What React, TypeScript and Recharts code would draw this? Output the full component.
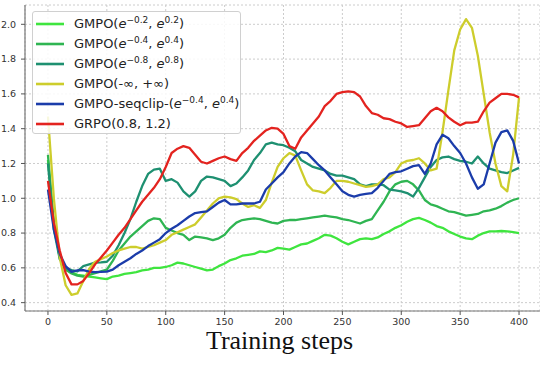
import React from 'react';
import { LineChart, Line, XAxis, YAxis, CartesianGrid, Legend } from 'recharts';

const steps = [0, 5, 10, 15, 20, 25, 30, 35, 40, 45, 50, 55, 60, 65, 70, 75, 80, 85, 90, 95, 100, 105, 110, 115, 120, 125, 130, 135, 140, 145, 150, 155, 160, 165, 170, 175, 180, 185, 190, 195, 200, 205, 210, 215, 220, 225, 230, 235, 240, 245, 250, 255, 260, 265, 270, 275, 280, 285, 290, 295, 300, 305, 310, 315, 320, 325, 330, 335, 340, 345, 350, 355, 360, 365, 370, 375, 380, 385, 390, 395, 400];

const gmpo02 = [1.22, 0.85, 0.66, 0.59, 0.575, 0.56, 0.555, 0.55, 0.545, 0.54, 0.535, 0.55, 0.555, 0.565, 0.57, 0.575, 0.585, 0.59, 0.6, 0.6, 0.605, 0.615, 0.63, 0.625, 0.615, 0.605, 0.595, 0.585, 0.59, 0.61, 0.625, 0.645, 0.655, 0.67, 0.675, 0.68, 0.695, 0.69, 0.7, 0.715, 0.71, 0.705, 0.72, 0.735, 0.74, 0.755, 0.77, 0.79, 0.785, 0.77, 0.75, 0.735, 0.75, 0.765, 0.77, 0.765, 0.775, 0.795, 0.81, 0.83, 0.845, 0.865, 0.88, 0.887, 0.875, 0.86, 0.84, 0.83, 0.81, 0.795, 0.78, 0.77, 0.765, 0.785, 0.8, 0.81, 0.81, 0.812, 0.81, 0.805, 0.8];

const gmpo04 = [1.25, 0.85, 0.66, 0.59, 0.568, 0.555, 0.55, 0.56, 0.57, 0.58, 0.59, 0.64, 0.7, 0.74, 0.78, 0.81, 0.84, 0.87, 0.885, 0.88, 0.83, 0.815, 0.8, 0.79, 0.76, 0.78, 0.775, 0.77, 0.76, 0.77, 0.79, 0.83, 0.86, 0.875, 0.88, 0.885, 0.88, 0.87, 0.86, 0.855, 0.87, 0.875, 0.875, 0.88, 0.885, 0.89, 0.895, 0.9, 0.895, 0.89, 0.88, 0.875, 0.865, 0.855, 0.87, 0.88, 0.93, 0.98, 1.04, 1.08, 1.095, 1.1, 1.08, 1.045, 0.99, 0.965, 0.955, 0.94, 0.925, 0.92, 0.91, 0.9, 0.905, 0.91, 0.925, 0.93, 0.94, 0.955, 0.975, 0.99, 1.0];

const gmpo08 = [1.2, 0.82, 0.65, 0.6, 0.587, 0.58, 0.61, 0.62, 0.63, 0.632, 0.635, 0.67, 0.73, 0.8, 0.88, 0.98, 1.07, 1.14, 1.165, 1.17, 1.1, 1.11, 1.09, 1.04, 1.01, 1.04, 1.1, 1.125, 1.12, 1.11, 1.1, 1.07, 1.085, 1.12, 1.16, 1.22, 1.26, 1.31, 1.32, 1.31, 1.305, 1.29, 1.27, 1.22, 1.2, 1.18, 1.17, 1.16, 1.14, 1.13, 1.13, 1.12, 1.11, 1.08, 1.07, 1.08, 1.08, 1.075, 1.05, 1.045, 1.04, 1.03, 1.01, 1.06, 1.12, 1.18, 1.22, 1.235, 1.24, 1.225, 1.215, 1.21, 1.2, 1.24, 1.2, 1.17, 1.16, 1.15, 1.145, 1.16, 1.175];

const gmpoInf = [1.47, 1.0, 0.66, 0.5, 0.445, 0.453, 0.525, 0.595, 0.635, 0.65, 0.665, 0.685, 0.7, 0.71, 0.72, 0.72, 0.71, 0.72, 0.73, 0.745, 0.76, 0.79, 0.805, 0.82, 0.835, 0.85, 0.89, 0.93, 0.97, 1.0, 1.01, 1.005, 0.995, 0.97, 0.95, 0.96, 0.945, 0.99, 1.09, 1.18, 1.23, 1.26, 1.245, 1.16, 1.08, 1.045, 1.04, 1.03, 1.06, 1.1, 1.1, 1.095, 1.085, 1.075, 1.065, 1.07, 1.08, 1.11, 1.12, 1.15, 1.2, 1.215, 1.22, 1.23, 1.2, 1.16, 1.17, 1.38, 1.62, 1.85, 1.97, 2.03, 1.98, 1.82, 1.6, 1.38, 1.2, 1.07, 1.04, 1.25, 1.58];

const seqclip = [1.05, 0.82, 0.68, 0.61, 0.577, 0.585, 0.587, 0.578, 0.575, 0.577, 0.578, 0.59, 0.615, 0.635, 0.655, 0.68, 0.7, 0.725, 0.745, 0.765, 0.8, 0.825, 0.845, 0.87, 0.895, 0.915, 0.92, 0.925, 0.95, 0.975, 0.99, 0.965, 0.965, 0.97, 0.97, 0.97, 0.98, 1.05, 1.085, 1.12, 1.15, 1.2, 1.24, 1.265, 1.26, 1.225, 1.19, 1.16, 1.12, 1.08, 1.04, 1.02, 1.01, 1.02, 1.025, 1.03, 1.06, 1.1, 1.14, 1.15, 1.155, 1.17, 1.185, 1.19, 1.14, 1.2, 1.31, 1.365, 1.345, 1.3, 1.26, 1.2, 1.12, 1.055, 1.08, 1.2, 1.32, 1.38, 1.39, 1.33, 1.2];

const grpo = [1.1, 0.86, 0.7, 0.57, 0.505, 0.505, 0.525, 0.57, 0.62, 0.66, 0.7, 0.745, 0.79, 0.83, 0.88, 0.93, 0.98, 1.02, 1.06, 1.11, 1.18, 1.26, 1.285, 1.3, 1.29, 1.25, 1.21, 1.2, 1.215, 1.23, 1.24, 1.225, 1.215, 1.26, 1.29, 1.33, 1.36, 1.39, 1.405, 1.4, 1.37, 1.3, 1.285, 1.35, 1.39, 1.43, 1.47, 1.53, 1.56, 1.6, 1.61, 1.615, 1.61, 1.585, 1.53, 1.49, 1.48, 1.46, 1.455, 1.44, 1.43, 1.41, 1.415, 1.42, 1.46, 1.5, 1.52, 1.5, 1.465, 1.44, 1.42, 1.435, 1.435, 1.44, 1.5, 1.55, 1.575, 1.6, 1.6, 1.595, 1.58];

const xTicks = [0, 50, 100, 150, 200, 250, 300, 350, 400];
const yTicks = [0.4, 0.6, 0.8, 1.0, 1.2, 1.4, 1.6, 1.8, 2.0];

type Def = { key: string; values: number[]; color: string; pre: string; a?: string; b?: string; plain?: string };

const defs: Def[] = [
  { key: 'gmpo02', values: gmpo02, color: '#3fe53f', pre: 'GMPO(', a: '\u22120.2', b: '0.2' },
  { key: 'gmpo04', values: gmpo04, color: '#2fb552', pre: 'GMPO(', a: '\u22120.4', b: '0.4' },
  { key: 'gmpo08', values: gmpo08, color: '#1e9071', pre: 'GMPO(', a: '\u22120.8', b: '0.8' },
  { key: 'gmpoInf', values: gmpoInf, color: '#cdcd2c', pre: '', plain: 'GMPO(-\u221e, +\u221e)' },
  { key: 'seqclip', values: seqclip, color: '#1b3caa', pre: 'GMPO-seqclip-(', a: '\u22120.4', b: '0.4' },
  { key: 'grpo', values: grpo, color: '#e3231f', pre: '', plain: 'GRPO(0.8, 1.2)' },
];

const data = steps.map((s, i) => {
  const row: Record<string, number> = { step: s };
  defs.forEach((d) => {
    row[d.key] = d.values[i];
  });
  return row;
});

const font = '"DejaVu Sans", sans-serif';

const renderLegend = () => (
  <div
    style={{
      width: 209,
      height: 123,
      boxSizing: 'border-box',
      border: '1px solid #d0d0d0',
      borderRadius: 3,
      background: 'rgba(255,255,255,0.85)',
      paddingTop: 2,
      paddingLeft: 3,
      fontFamily: font,
      fontSize: 13,
      color: '#222',
    }}
  >
    {defs.map((d) => (
      <div key={d.key} style={{ display: 'flex', alignItems: 'center', height: 20, lineHeight: '20px', whiteSpace: 'nowrap' }}>
        <svg width={28} height={6} style={{ marginRight: 10, flex: 'none' }}>
          <line x1={0} y1={3} x2={28} y2={3} stroke={d.color} strokeWidth={2.6} />
        </svg>
        {d.plain ? (
          <span>{d.plain}</span>
        ) : (
          <span>
            {d.pre}
            <i>e</i>
            <sup style={{ fontSize: 9, lineHeight: 0 }}>{d.a}</sup>
            {', '}
            <i>e</i>
            <sup style={{ fontSize: 9, lineHeight: 0 }}>{d.b}</sup>
            {')'}
          </span>
        )}
      </div>
    ))}
  </div>
);

const XLabel = (props: any) => {
  const vb = props.viewBox || { x: 25, y: 311, width: 515 };
  return (
    <text
      x={vb.x + vb.width / 2 - 3}
      y={vb.y + 38}
      textAnchor="middle"
      fontFamily='"Liberation Serif", "Times New Roman", serif'
      fontSize={26}
      fill="#111"
    >
      Training steps
    </text>
  );
};

export default function App() {
  return (
    <div style={{ position: 'absolute', left: 0, top: 0, width: 540, height: 372, background: '#fff' }}>
      <LineChart width={540} height={372} data={data} margin={{ top: 5, right: 0, bottom: 0, left: 0 }}>
        <CartesianGrid stroke="#cccccc" strokeDasharray="2 2" vertical horizontal />
        <XAxis
          xAxisId="top"
          orientation="top"
          dataKey="step"
          type="number"
          domain={[-19.5, 417.8]}
          allowDataOverflow
          height={0}
          tick={false}
          tickLine={false}
          axisLine={{ stroke: '#777', strokeWidth: 1.2 }}
        />
        <XAxis
          dataKey="step"
          type="number"
          domain={[-19.5, 417.8]}
          allowDataOverflow
          ticks={xTicks}
          height={61}
          tickSize={4}
          tickMargin={3}
          tick={{ fontFamily: font, fontSize: 9.5, fill: '#333' }}
          tickLine={{ stroke: '#555' }}
          axisLine={{ stroke: '#777', strokeWidth: 1.2 }}
          label={<XLabel />}
        />
        <YAxis
          type="number"
          domain={[0.352, 2.111]}
          allowDataOverflow
          ticks={yTicks}
          width={25}
          tickSize={4}
          tickMargin={5}
          tickFormatter={(v: number) => v.toFixed(1)}
          tick={{ fontFamily: font, fontSize: 9.5, fill: '#333' }}
          tickLine={{ stroke: '#555' }}
          axisLine={{ stroke: '#777', strokeWidth: 1.2 }}
        />
        <Legend
          layout="vertical"
          align="center"
          verticalAlign="middle"
          content={renderLegend}
          wrapperStyle={{ position: 'absolute', left: 32, top: 11, width: 209, height: 123 }}
        />
        {defs.map((d) => (
          <Line
            key={d.key}
            dataKey={d.key}
            stroke={d.color}
            strokeWidth={2.3}
            dot={false}
            activeDot={false}
            isAnimationActive={false}
            type="linear"
            strokeLinejoin="round"
          />
        ))}
      </LineChart>
    </div>
  );
}
